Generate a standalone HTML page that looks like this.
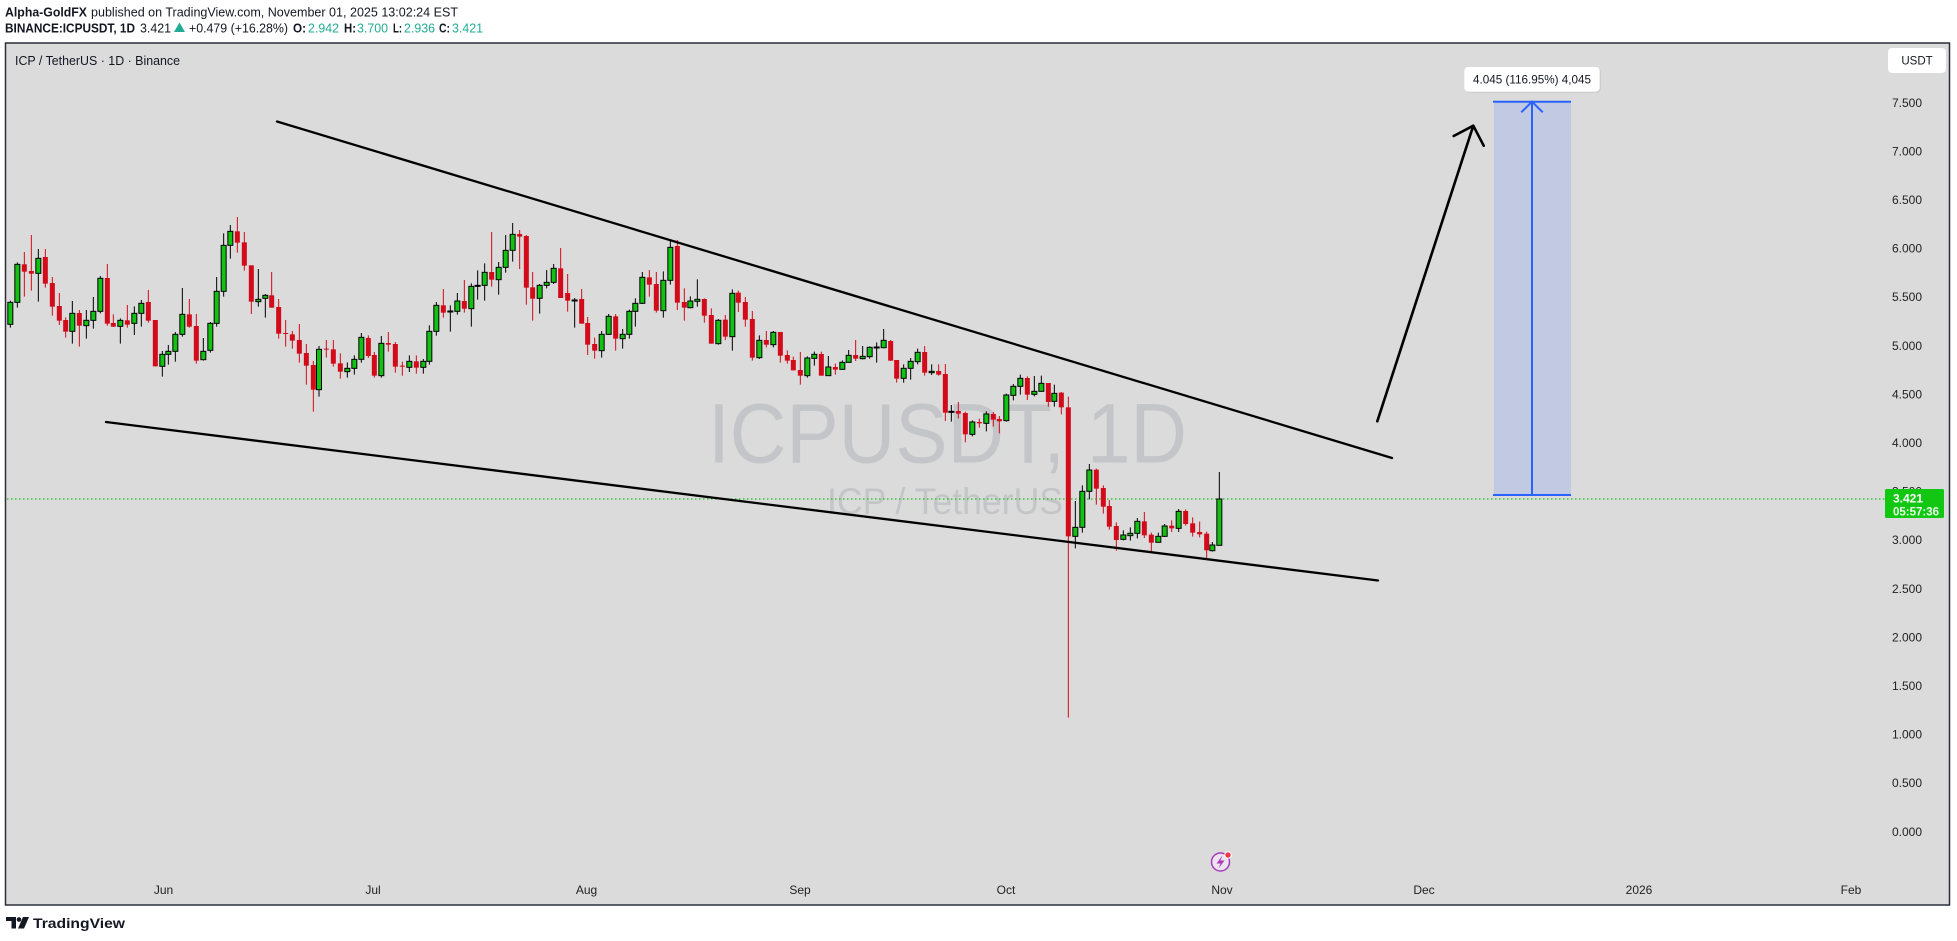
<!DOCTYPE html>
<html><head><meta charset="utf-8"><style>
html,body{margin:0;padding:0;background:#fff;}
svg{display:block;font-family:"Liberation Sans",Arial,sans-serif;}
.gw{stroke:#000;stroke-width:3;fill:none}
.rw{stroke:#d20a19;stroke-width:3;fill:none}
.gb rect{fill:#12c212;stroke:#000;stroke-width:3}
.rb rect{fill:#d20a19}
.ax{font-size:12px;fill:#222}
</style></head><body>
<svg width="1957" height="941" viewBox="0 0 1957 941" xmlns="http://www.w3.org/2000/svg">
<rect x="0" y="0" width="1957" height="941" fill="#fff"/>
<!-- header -->
<text x="5" y="16.7" font-size="12.5" fill="#131722"><tspan font-weight="bold" textLength="82" lengthAdjust="spacingAndGlyphs">Alpha-GoldFX</tspan></text>
<text x="91" y="16.7" font-size="12.5" fill="#131722" textLength="367" lengthAdjust="spacingAndGlyphs">published on TradingView.com, November 01, 2025 13:02:24 EST</text>
<g font-size="12.5" fill="#131722">
<text x="5" y="32.3" font-weight="bold" textLength="130" lengthAdjust="spacingAndGlyphs">BINANCE:ICPUSDT, 1D</text>
<text x="140" y="32.3" textLength="31" lengthAdjust="spacingAndGlyphs">3.421</text>
<text x="189" y="32.3" textLength="99" lengthAdjust="spacingAndGlyphs">+0.479 (+16.28%)</text>
<text x="293" y="32.3" font-weight="bold" textLength="13" lengthAdjust="spacingAndGlyphs">O:</text>
<text x="308" y="32.3" fill="#22ab94" textLength="31" lengthAdjust="spacingAndGlyphs">2.942</text>
<text x="344" y="32.3" font-weight="bold" textLength="12" lengthAdjust="spacingAndGlyphs">H:</text>
<text x="357" y="32.3" fill="#22ab94" textLength="31" lengthAdjust="spacingAndGlyphs">3.700</text>
<text x="393" y="32.3" font-weight="bold" textLength="9" lengthAdjust="spacingAndGlyphs">L:</text>
<text x="404" y="32.3" fill="#22ab94" textLength="31" lengthAdjust="spacingAndGlyphs">2.936</text>
<text x="439" y="32.3" font-weight="bold" textLength="11" lengthAdjust="spacingAndGlyphs">C:</text>
<text x="452" y="32.3" fill="#22ab94" textLength="31" lengthAdjust="spacingAndGlyphs">3.421</text>
</g>
<polygon points="174,32 185,32 179.5,22.5" fill="#22ab94"/>

<!-- chart frame -->
<rect x="5.5" y="43" width="1944" height="862" fill="#dbdbdb" stroke="#2a2e39" stroke-width="1.5"/>
<text x="15" y="65" font-size="12.5" fill="#131722" textLength="165" lengthAdjust="spacingAndGlyphs">ICP / TetherUS · 1D · Binance</text>

<!-- watermark -->
<text x="708" y="462.7" font-size="84" fill="#c4c5c8" textLength="479" lengthAdjust="spacingAndGlyphs">ICPUSDT, 1D</text>
<text x="827" y="514" font-size="37" fill="#c4c5c8" textLength="236" lengthAdjust="spacingAndGlyphs">ICP / TetherUS</text>

<!-- price line -->
<line x1="7" y1="499" x2="1885" y2="499" stroke="#10c010" stroke-width="1.2" stroke-dasharray="1.5,2.5"/>

<!-- candles group 1 -->
<g transform="translate(0,210) scale(0.33333)">
<path class="gw" d="M31 272V353M52 157V293M115 117V275M217 273V401M259 300V386M280 261V356M301 198V310M361 325V401M403 289V375M424 270V350M487 423V500M505 405V464M526 366V455M547 234V380M610 384V452M631 336V428M650 201V350M671 70V260M691 45V146M775 177V290M796 252V323M957 408V560"/>
<path class="rw" d="M73 126V260M94 75V242M136 117V233M157 201V317M178 249V345M197 322V383M238 300V410M322 162V347M340 313V351M382 285V353M445 240V338M466 330V469M568 267V353M589 312V461M712 21V128M733 66V182M754 166V312M815 186V293M836 267V386M857 330V410M877 363V416M898 342V458M919 402V524M940 453V605"/>
<g class="gb">
<rect x="23.5" y="277" width="15" height="66"/><rect x="44.5" y="163" width="15" height="114"/><rect x="107.5" y="145" width="15" height="45"/><rect x="209.5" y="310" width="15" height="54"/><rect x="251.5" y="331" width="15" height="16"/><rect x="272.5" y="304" width="15" height="27"/><rect x="293.5" y="205" width="15" height="99"/><rect x="353.5" y="331" width="15" height="18"/><rect x="395.5" y="310" width="15" height="30"/><rect x="416.5" y="280" width="15" height="30"/><rect x="479.5" y="433" width="15" height="36"/><rect x="497.5" y="424" width="15" height="9"/><rect x="518.5" y="373" width="15" height="51"/><rect x="539.5" y="313" width="15" height="60"/><rect x="602.5" y="424" width="15" height="25"/><rect x="623.5" y="340" width="15" height="81"/><rect x="642.5" y="244" width="15" height="96"/><rect x="663.5" y="106" width="15" height="138"/><rect x="683.5" y="64" width="15" height="42"/><rect x="767.5" y="268" width="15" height="7"/><rect x="788.5" y="256" width="15" height="9"/><rect x="949.5" y="418" width="15" height="121"/>
</g>
<g class="rb">
<rect x="65.5" y="163" width="15" height="22"/><rect x="86.5" y="183" width="15" height="8"/><rect x="128.5" y="141" width="15" height="80"/><rect x="149.5" y="219" width="15" height="71"/><rect x="170.5" y="288" width="15" height="44"/><rect x="189.5" y="330" width="15" height="35"/><rect x="230.5" y="309" width="15" height="38"/><rect x="314.5" y="204" width="15" height="137"/><rect x="332.5" y="339" width="15" height="11"/><rect x="374.5" y="331" width="15" height="13"/><rect x="437.5" y="276" width="15" height="56"/><rect x="458.5" y="330" width="15" height="139"/><rect x="560.5" y="313" width="15" height="37"/><rect x="581.5" y="348" width="15" height="104"/><rect x="704.5" y="64" width="15" height="34"/><rect x="725.5" y="97" width="15" height="70"/><rect x="746.5" y="166" width="15" height="109"/><rect x="807.5" y="256" width="15" height="37"/><rect x="828.5" y="291" width="15" height="80"/><rect x="849.5" y="369" width="15" height="3"/><rect x="869.5" y="373" width="15" height="19"/><rect x="890.5" y="390" width="15" height="41"/><rect x="911.5" y="429" width="15" height="38"/><rect x="932.5" y="465" width="15" height="74"/>
</g>
</g>

<!-- candles group 2 -->
<g transform="translate(310,210) scale(0.33333)">
<path class="gw" d="M112 457V503M133 436V494M154 369V458M214 378V503M298 436V486M340 447V491M358 346V464M379 276V377M421 286V365M442 249V314M484 220V350M503 181V269M524 160V272M566 156V254M587 75V188M608 39V155M689 222V311M710 180V235M731 162V222M794 264V353M875 363V443M896 312V375M938 357V416M958 299V386"/>
<path class="rw" d="M49 390V443M70 390V470M91 430V506M175 376V444M193 426V503M235 366V425M256 396V488M277 455V497M319 436V491M400 237V323M463 210V308M545 66V230M629 60V177M649 75V284M668 186V332M752 114V264M773 192V305M815 237V341M833 321V435M854 383V446M917 312V422"/>
<g class="gb">
<rect x="104.5" y="475" width="15" height="10"/><rect x="125.5" y="448" width="15" height="27"/><rect x="146.5" y="382" width="15" height="66"/><rect x="206.5" y="400" width="15" height="97"/><rect x="290.5" y="454" width="15" height="18"/><rect x="332.5" y="454" width="15" height="18"/><rect x="350.5" y="364" width="15" height="90"/><rect x="371.5" y="286" width="15" height="78"/><rect x="413.5" y="303" width="15" height="3"/><rect x="434.5" y="273" width="15" height="31"/><rect x="476.5" y="229" width="15" height="67"/><rect x="495.5" y="226" width="15" height="3"/><rect x="516.5" y="187" width="15" height="39"/><rect x="558.5" y="172" width="15" height="37"/><rect x="579.5" y="121" width="15" height="51"/><rect x="600.5" y="73" width="15" height="48"/><rect x="681.5" y="226" width="15" height="39"/><rect x="702.5" y="217" width="15" height="9"/><rect x="723.5" y="175" width="15" height="42"/><rect x="786.5" y="270" width="15" height="3"/><rect x="867.5" y="373" width="15" height="49"/><rect x="888.5" y="319" width="15" height="54"/><rect x="930.5" y="373" width="15" height="13"/><rect x="950.5" y="304" width="15" height="69"/>
</g>
<g class="rb">
<rect x="41.5" y="416" width="15" height="3"/><rect x="62.5" y="418" width="15" height="43"/><rect x="83.5" y="460" width="15" height="25"/><rect x="167.5" y="384" width="15" height="54"/><rect x="185.5" y="435" width="15" height="62"/><rect x="227.5" y="399" width="15" height="5"/><rect x="248.5" y="402" width="15" height="68"/><rect x="269.5" y="467" width="15" height="3"/><rect x="311.5" y="454" width="15" height="19"/><rect x="392.5" y="286" width="15" height="22"/><rect x="455.5" y="273" width="15" height="23"/><rect x="537.5" y="186" width="15" height="23"/><rect x="621.5" y="72" width="15" height="8"/><rect x="641.5" y="78" width="15" height="155"/><rect x="660.5" y="232" width="15" height="34"/><rect x="744.5" y="175" width="15" height="89"/><rect x="765.5" y="249" width="15" height="23"/><rect x="807.5" y="267" width="15" height="74"/><rect x="825.5" y="339" width="15" height="65"/><rect x="846.5" y="402" width="15" height="20"/><rect x="909.5" y="319" width="15" height="67"/>
</g>
</g>

<!-- candles group 3 -->
<g transform="translate(620,230) scale(0.33333)">
<path class="gw" d="M46 205V290M67 126V222M130 124V263M151 33V164M211 199V235M232 148V230M295 267V344M337 178V362M418 316V387M460 303V352M562 379V443M583 365V407M625 378V437M667 391V420M686 360V398M728 348V388M749 349V386M770 337V398M791 297V355M851 403V458M872 384V449M893 356V403M935 403V435"/>
<path class="rw" d="M88 120V200M109 126V248M172 30V240M193 175V272M253 205V278M274 235V341M316 255V330M355 182V246M376 201V290M397 243V392M439 303V352M481 306V398M502 361V401M520 380V421M541 366V464M604 365V437M646 401V434M707 330V393M812 330V393M830 390V458M914 348V437M956 403V437"/>
<g class="gb">
<rect x="38.5" y="220" width="15" height="24"/><rect x="59.5" y="142" width="15" height="78"/><rect x="122.5" y="151" width="15" height="91"/><rect x="143.5" y="52" width="15" height="99"/><rect x="203.5" y="213" width="15" height="20"/><rect x="224.5" y="208" width="15" height="6"/><rect x="287.5" y="271" width="15" height="70"/><rect x="329.5" y="190" width="15" height="130"/><rect x="410.5" y="331" width="15" height="52"/><rect x="452.5" y="307" width="15" height="37"/><rect x="554.5" y="384" width="15" height="53"/><rect x="575.5" y="373" width="15" height="12"/><rect x="617.5" y="411" width="15" height="26"/><rect x="659.5" y="397" width="15" height="21"/><rect x="678.5" y="376" width="15" height="21"/><rect x="720.5" y="379" width="15" height="7"/><rect x="741.5" y="352" width="15" height="28"/><rect x="762.5" y="351" width="15" height="3"/><rect x="783.5" y="331" width="15" height="22"/><rect x="843.5" y="415" width="15" height="30"/><rect x="864.5" y="394" width="15" height="21"/><rect x="885.5" y="367" width="15" height="28"/><rect x="927.5" y="424" width="15" height="4"/>
</g>
<g class="rb">
<rect x="80.5" y="142" width="15" height="22"/><rect x="101.5" y="162" width="15" height="80"/><rect x="164.5" y="48" width="15" height="170"/><rect x="185.5" y="216" width="15" height="17"/><rect x="245.5" y="207" width="15" height="50"/><rect x="266.5" y="255" width="15" height="86"/><rect x="308.5" y="269" width="15" height="51"/><rect x="347.5" y="188" width="15" height="30"/><rect x="368.5" y="216" width="15" height="53"/><rect x="389.5" y="267" width="15" height="116"/><rect x="431.5" y="330" width="15" height="14"/><rect x="473.5" y="306" width="15" height="71"/><rect x="494.5" y="375" width="15" height="17"/><rect x="512.5" y="390" width="15" height="31"/><rect x="533.5" y="420" width="15" height="17"/><rect x="596.5" y="372" width="15" height="65"/><rect x="638.5" y="411" width="15" height="8"/><rect x="699.5" y="375" width="15" height="11"/><rect x="804.5" y="333" width="15" height="59"/><rect x="822.5" y="390" width="15" height="56"/><rect x="906.5" y="366" width="15" height="62"/><rect x="948.5" y="423" width="15" height="11"/>
</g>
</g>

<!-- candles group 4 -->
<g transform="translate(930,360) scale(0.33333)">
<path class="gw" d="M64 135V185M127 181V229M169 154V214M229 101V185M250 72V121M271 44V104M313 48V109M334 47V95M373 74V140M436 423V565M457 376V518M478 312V418M580 511V541M601 502V542M622 474V535M685 518V547M704 492V531M746 447V516M847 546V575M868 336V556"/>
<path class="rw" d="M46 12V183M85 126V175M106 155V247M148 176V203M190 156V200M208 168V220M292 49V120M355 69V140M394 96V163M415 110V1073M499 326V434M520 376V461M538 420V509M559 487V572M643 456V534M664 518V578M725 481V516M767 448V497M788 472V530M809 485V532M830 515V598"/>
<g class="gb">
<rect x="56.5" y="154" width="15" height="3"/><rect x="119.5" y="186" width="15" height="37"/><rect x="161.5" y="162" width="15" height="28"/><rect x="221.5" y="105" width="15" height="77"/><rect x="242.5" y="79" width="15" height="27"/><rect x="263.5" y="55" width="15" height="24"/><rect x="305.5" y="94" width="15" height="9"/><rect x="326.5" y="70" width="15" height="24"/><rect x="365.5" y="100" width="15" height="24"/><rect x="428.5" y="502" width="15" height="27"/><rect x="449.5" y="394" width="15" height="108"/><rect x="470.5" y="330" width="15" height="64"/><rect x="572.5" y="525" width="15" height="13"/><rect x="593.5" y="520" width="15" height="7"/><rect x="614.5" y="484" width="15" height="36"/><rect x="677.5" y="529" width="15" height="18"/><rect x="696.5" y="498" width="15" height="31"/><rect x="738.5" y="454" width="15" height="51"/><rect x="839.5" y="555" width="15" height="17"/><rect x="860.5" y="417" width="15" height="139"/>
</g>
<g class="rb">
<rect x="38.5" y="42" width="15" height="116"/><rect x="77.5" y="153" width="15" height="8"/><rect x="98.5" y="159" width="15" height="64"/><rect x="140.5" y="186" width="15" height="4"/><rect x="182.5" y="162" width="15" height="17"/><rect x="200.5" y="177" width="15" height="7"/><rect x="284.5" y="54" width="15" height="50"/><rect x="347.5" y="69" width="15" height="57"/><rect x="386.5" y="98" width="15" height="44"/><rect x="407.5" y="142" width="15" height="387"/><rect x="491.5" y="329" width="15" height="57"/><rect x="512.5" y="384" width="15" height="56"/><rect x="530.5" y="438" width="15" height="62"/><rect x="551.5" y="498" width="15" height="42"/><rect x="635.5" y="484" width="15" height="42"/><rect x="656.5" y="524" width="15" height="24"/><rect x="717.5" y="497" width="15" height="8"/><rect x="759.5" y="453" width="15" height="39"/><rect x="780.5" y="490" width="15" height="28"/><rect x="801.5" y="516" width="15" height="7"/><rect x="822.5" y="521" width="15" height="50"/>
</g>
</g>

<!-- trendlines -->
<line x1="277" y1="121.5" x2="1392" y2="458" stroke="#000" stroke-width="2.3" stroke-linecap="round"/>
<line x1="106" y1="422" x2="1378" y2="580.5" stroke="#000" stroke-width="2.3" stroke-linecap="round"/>
<!-- arrow -->
<path d="M1377.3 421.3L1473.3 125.7M1453.7 136L1473.3 125.7L1483.7 145.7" stroke="#000" stroke-width="2.6" fill="none" stroke-linecap="round" stroke-linejoin="round"/>

<!-- target box -->
<rect x="1494" y="101.7" width="77" height="393.3" fill="#c1cae2"/>
<path d="M1493 101.7H1571M1493 495H1571M1532 101.7V495M1521.3 112.3L1532 101.7L1542.7 112.3" stroke="#2962ff" stroke-width="2" fill="none"/>
<rect x="1465.3" y="68" width="135.4" height="24.7" rx="4" fill="#000" opacity="0.08"/>
<rect x="1464.3" y="67" width="135.4" height="24.7" rx="4" fill="#fff"/>
<text x="1532" y="83.5" font-size="12" fill="#131722" text-anchor="middle" textLength="118" lengthAdjust="spacingAndGlyphs">4.045 (116.95%) 4,045</text>

<!-- price axis -->
<rect x="1888" y="48" width="58" height="25" rx="4" fill="#fff"/>
<text x="1917" y="64.5" font-size="11.5" fill="#131722" text-anchor="middle">USDT</text>
<g class="ax" text-anchor="end">
<text x="1922" y="106.8">7.500</text>
<text x="1922" y="155.4">7.000</text>
<text x="1922" y="204">6.500</text>
<text x="1922" y="252.6">6.000</text>
<text x="1922" y="301.2">5.500</text>
<text x="1922" y="349.8">5.000</text>
<text x="1922" y="398.4">4.500</text>
<text x="1922" y="447">4.000</text>
<text x="1922" y="495.6">3.500</text>
<text x="1922" y="544.2">3.000</text>
<text x="1922" y="592.8">2.500</text>
<text x="1922" y="641.4">2.000</text>
<text x="1922" y="690">1.500</text>
<text x="1922" y="738.6">1.000</text>
<text x="1922" y="787.2">0.500</text>
<text x="1922" y="835.8">0.000</text>
</g>
<rect x="1885" y="489" width="59" height="29" rx="1.5" fill="#11c711"/>
<text x="1893" y="502.5" font-size="12" font-weight="bold" fill="#fff">3.421</text>
<text x="1893" y="515.5" font-size="12" font-weight="bold" fill="#e8ffe8" textLength="46" lengthAdjust="spacingAndGlyphs">05:57:36</text>

<!-- time axis -->
<g class="ax" text-anchor="middle">
<text x="163.5" y="894">Jun</text>
<text x="373" y="894">Jul</text>
<text x="586.5" y="894">Aug</text>
<text x="800" y="894">Sep</text>
<text x="1006" y="894">Oct</text>
<text x="1222" y="894">Nov</text>
<text x="1424" y="894">Dec</text>
<text x="1639" y="894">2026</text>
<text x="1851" y="894">Feb</text>
</g>

<!-- lightning icon -->
<circle cx="1220.5" cy="862" r="9" fill="#efe3f2" stroke="#a53cba" stroke-width="1.5"/>
<path d="M1222.5 855.5L1216.5 863.5H1220.5L1218.5 868.5L1224.5 860.5H1220.5Z" fill="#a53cba"/>
<circle cx="1228" cy="855" r="3.2" fill="#f23645" stroke="#fff" stroke-width="1"/>

<!-- TradingView logo -->
<path d="M6 917H16V928.5H11.5V921H6Z" fill="#131722"/>
<circle cx="19" cy="919.5" r="2.3" fill="#131722"/>
<path d="M23 917H29L24 928.5H18Z" fill="#131722"/>
<text x="33" y="928" font-size="14" font-weight="bold" fill="#131722" textLength="92" lengthAdjust="spacingAndGlyphs">TradingView</text>
</svg>
</body></html>
